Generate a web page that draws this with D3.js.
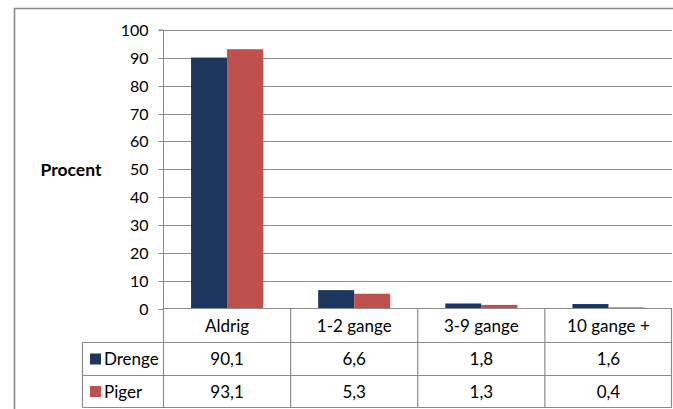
<!DOCTYPE html>
<html><head><meta charset="utf-8">
<script src="https://cdn.jsdelivr.net/npm/d3@7"></script>
<style>
html,body{margin:0;padding:0;background:#fff;}
svg{display:block;font-family:Lato, "Open Sans", sans-serif;}
</style></head>
<body>
<script>
const categories = ["Aldrig", "1-2 gange", "3-9 gange", "10 gange +"];
const seriesNames = ["Drenge", "Piger"];
const drenge = [90.1, 6.6, 1.8, 1.6];
const piger = [93.1, 5.3, 1.3, 0.4];
const valueLabels = [["90,1","6,6","1,8","1,6"],["93,1","5,3","1,3","0,4"]];
const yTicks = [0,10,20,30,40,50,60,70,80,90,100];
const colors = ["#1b375e", "#c0504d"];
const yTitle = "Procent";

(function(){
const W = 673, H = 409;
const svg = d3.select("body").append("svg").attr("width", W).attr("height", H);

// outer frame
svg.append("path").attr("d", `M14.5,${H+2} L14.5,8.5 L${W+2},8.5`)
  .attr("fill","none").attr("stroke","#8a8a8a").attr("stroke-width",1.6);

const pL = 163.5, pR = 672, pT = 30, pB = 308.5;
const x = d3.scaleBand().domain(categories).range([pL, pR]).padding(0);
const xs = d3.scaleBand().domain(seriesNames).range([0, x.bandwidth()]).paddingInner(0).paddingOuter(0.765);
const y = d3.scaleLinear().domain([0,100]).range([pB, pT]);

// gridlines
svg.append("g").selectAll("line").data(yTicks.filter(d=>d>0)).join("line")
  .attr("x1", pL).attr("x2", pR)
  .attr("y1", d=>Math.round(y(d))+0.5).attr("y2", d=>Math.round(y(d))+0.5)
  .attr("stroke","#8c8c8c").attr("stroke-width",1);

// y axis
const yAxis = d3.axisLeft(y).tickValues(yTicks).tickSize(5).tickPadding(10).tickFormat(d3.format("d"));
const gy = svg.append("g").attr("transform", `translate(${pL},0)`).call(yAxis);
gy.select(".domain").attr("stroke","#8c8c8c").attr("d", `M-5,${pT}H0V${pB}`);
gy.selectAll(".tick line").attr("stroke","#8c8c8c");
gy.selectAll(".tick").attr("transform", d=>`translate(0,${Math.round(y(d))+0.5})`);
gy.selectAll("text").attr("font-size", 16).attr("fill","#000").attr("font-family","Lato, sans-serif");

svg.append("text").attr("x", 71).attr("y", 176).attr("text-anchor","middle")
  .attr("font-weight","bold").attr("font-size",17.5).attr("fill","#000").text(yTitle);

// bars
const data = [drenge, piger];
data.forEach((vals, si) => {
  svg.append("g").selectAll("rect").data(categories).join("rect")
    .attr("x", c => x(c) + xs(seriesNames[si]))
    .attr("width", xs.bandwidth())
    .attr("y", (c,i) => y(vals[i]))
    .attr("height", (c,i) => y(0) - y(vals[i]))
    .attr("fill", colors[si]);
});

// data table
const rowTop = [308.5, 342.5, 375.5, 407.5];
const tableLeft = 82.5;
const g = svg.append("g");
const lineColor = "#8c8c8c";
g.append("line").attr("x1", pL).attr("x2", pR).attr("y1", rowTop[0]).attr("y2", rowTop[0]).attr("stroke", lineColor).attr("stroke-width",1.2);
[1,2,3].forEach(i => g.append("line").attr("x1", tableLeft).attr("x2", pR).attr("y1", rowTop[i]).attr("y2", rowTop[i]).attr("stroke", lineColor).attr("stroke-width",1.2));
g.append("line").attr("x1", tableLeft).attr("x2", tableLeft).attr("y1", rowTop[1]).attr("y2", rowTop[3]).attr("stroke", lineColor).attr("stroke-width",1.2);
categories.forEach(c => {
  g.append("line").attr("x1", x(c)).attr("x2", x(c)).attr("y1", rowTop[0]).attr("y2", rowTop[3]).attr("stroke", lineColor).attr("stroke-width",1.2);
});
g.append("line").attr("x1", pR-0.5).attr("x2", pR-0.5).attr("y1", rowTop[0]).attr("y2", rowTop[3]).attr("stroke", lineColor).attr("stroke-width",1.2);

g.selectAll("text.cat").data(categories).join("text").attr("class","cat")
  .attr("x", c => x(c) + x.bandwidth()/2).attr("y", (rowTop[0]+rowTop[1])/2 + 6)
  .attr("text-anchor","middle").attr("font-size",17).attr("fill","#000").text(c=>c);

seriesNames.forEach((s, si) => {
  const cy = (rowTop[si+1]+rowTop[si+2])/2;
  g.append("rect").attr("x", 90).attr("y", cy-5.5).attr("width",11).attr("height",11).attr("fill", colors[si]);
  g.append("text").attr("x", 104).attr("y", cy+6).attr("font-size",17).attr("fill","#000").text(s);
  g.selectAll(null).data(categories).join("text")
    .attr("x", c => x(c) + x.bandwidth()/2).attr("y", cy+6)
    .attr("text-anchor","middle").attr("font-size",17).attr("fill","#000")
    .text((c,i) => valueLabels[si][i]);
});
})();
</script>
</body></html>
